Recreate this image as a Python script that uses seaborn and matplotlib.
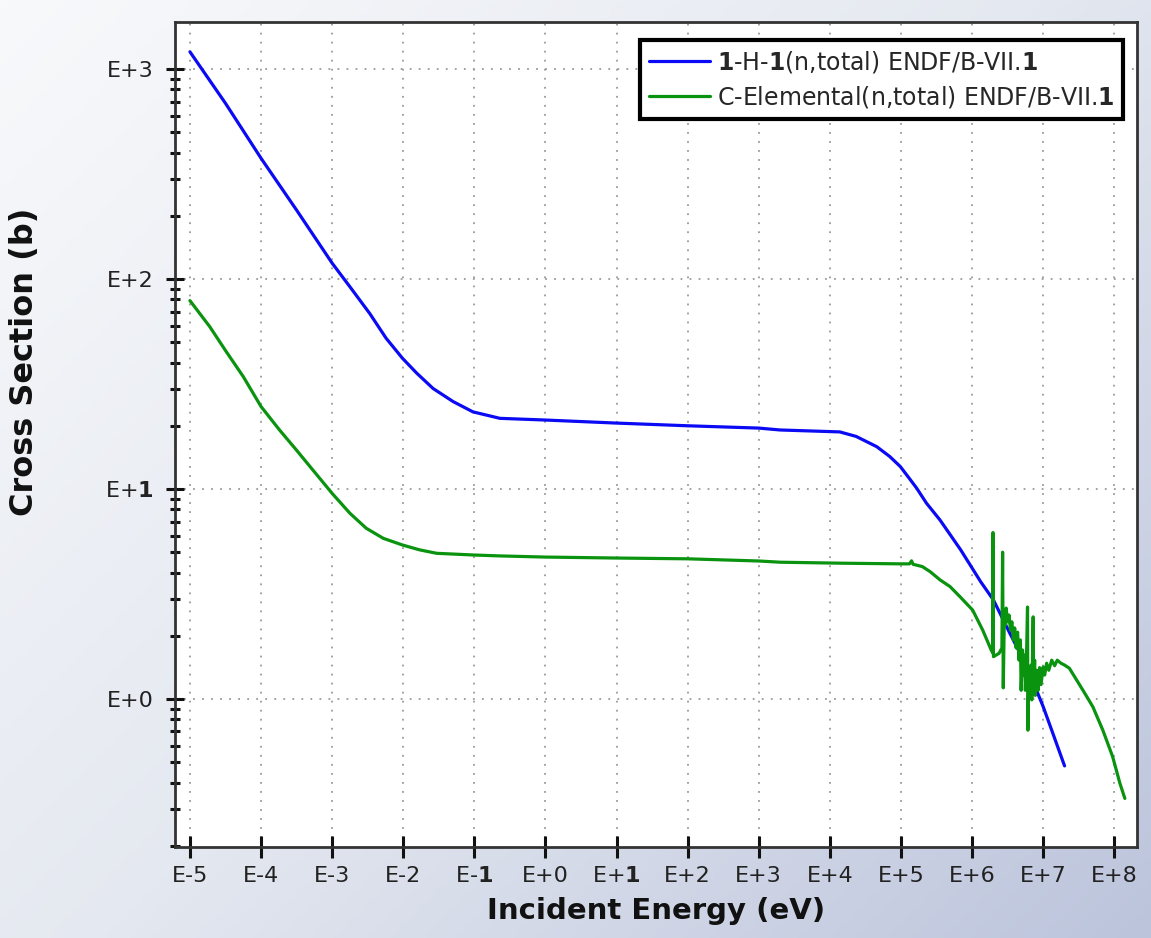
import numpy as np
import pandas as pd
import matplotlib
matplotlib.use('Agg')
import matplotlib.pyplot as plt
import seaborn as sns
from matplotlib.colors import LinearSegmentedColormap
from matplotlib.ticker import LogLocator, NullLocator, FixedLocator, FixedFormatter

# ---------------- data ----------------
h1_energy = [1e-5, 3.16e-5, 1e-4, 3.16e-4, 1e-3, 1.78e-3, 3.39e-3, 5.75e-3, 9.77e-3,
             1.55e-2, 2.63e-2, 5.01e-2, 9.55e-2, 0.229, 1, 10, 100, 1e3, 2e3, 1.38e4,
             2.34e4, 4.57e4, 6.92e4, 9.77e4, 1.32e5, 1.66e5, 2.29e5, 3.55e5, 6.92e5,
             1.32e6, 2e6, 3.39e6, 5.89e6, 1e7, 1.32e7, 2e7]
h1_xs = [1208, 687, 376, 213, 119, 91.8, 68.4, 52.2, 41.9,
         35.6, 30.1, 26.1, 23.3, 21.7, 21.3, 20.6, 20.0, 19.5, 19.1, 18.7,
         17.8, 15.9, 14.3, 12.8, 11.2, 10.1, 8.55, 7.11, 5.13,
         3.62, 2.96, 2.06, 1.43, 0.92, 0.71, 0.48]

c_energy = [1e-5, 1.9e-5, 3.24e-5, 5.62e-5, 1e-4, 1.82e-4, 3.16e-4, 5.37e-4, 1e-3,
            1.78e-3, 3.02e-3, 5.25e-3, 9.77e-3, 1.7e-2, 2.95e-2, 9.55e-2, 0.229,
            1, 10, 100, 1e3, 2e3, 1.6e4, 1e5, 1.32e5, 1.41e5, 1.48e5, 2e5, 2.57e5,
            3.55e5, 4.9e5, 6.76e5, 1.02e6, 1.41e6, 1.86e6, 1.95e6, 1.97e6, 2.0e6,
            2.4e6, 2.63e6, 2.69e6, 2.75e6, 2.85e6, 2.95e6, 3.02e6, 3.16e6, 3.31e6,
            3.47e6, 3.63e6, 3.80e6, 3.98e6, 4.17e6, 4.37e6, 4.57e6, 4.79e6, 4.90e6,
            5.13e6, 5.25e6, 5.50e6, 5.62e6, 5.82e6, 6.03e6, 6.10e6, 6.31e6, 6.46e6,
            6.76e6, 6.92e6, 7.24e6, 7.33e6, 7.59e6, 7.76e6, 8.13e6, 8.51e6, 8.91e6,
            9.33e6, 1e7, 1.05e7, 1.12e7, 1.20e7, 1.32e7, 1.45e7, 1.58e7, 1.78e7,
            2.0e7, 2.34e7, 3.63e7, 5e7, 6.9e7, 9.5e7, 1.2e8, 1.41e8]
c_xs = [78.9, 59.3, 45.1, 34.3, 24.7, 19.1, 15.3, 12.3, 9.53,
        7.66, 6.50, 5.82, 5.41, 5.13, 4.94, 4.85, 4.80,
        4.74, 4.69, 4.65, 4.54, 4.48, 4.43, 4.40, 4.40, 4.55, 4.38, 4.27, 4.04,
        3.69, 3.43, 3.07, 2.65, 2.13, 1.71, 1.66, 6.2, 1.59,
        1.65, 1.75, 5.0, 1.13, 2.6, 2.25, 2.71, 2.33, 2.51,
        2.13, 2.33, 1.91, 2.18, 1.75, 2.08, 1.53, 1.91, 1.10,
        1.71, 1.30, 1.62, 1.10, 1.53, 2.74, 0.71, 1.37, 1.04,
        1.45, 0.99, 2.46, 1.10, 1.53, 1.04, 1.37, 1.10, 1.41,
        1.17, 1.42, 1.30, 1.48, 1.37, 1.53, 1.44, 1.53, 1.48,
        1.45, 1.40, 1.10, 0.918, 0.711, 0.531, 0.397, 0.336]

series_labels = ['$\\mathbf{1}$-H-$\\mathbf{1}$(n,total) ENDF/B-VII.$\\mathbf{1}$',
                 'C-Elemental(n,total) ENDF/B-VII.$\\mathbf{1}$']
x_tick_values = [1e-5, 1e-4, 1e-3, 1e-2, 1e-1, 1e0, 1e1, 1e2, 1e3, 1e4, 1e5, 1e6, 1e7, 1e8]
x_tick_labels = ['E-5', 'E-4', 'E-3', 'E-2', 'E-1', 'E+0', 'E+1', 'E+2', 'E+3', 'E+4',
                 'E+5', 'E+6', 'E+7', 'E+8']
y_tick_values = [1, 10, 100, 1000]
y_tick_labels = ['E+0', 'E+1', 'E+2', 'E+3']


def boldify(s):
    return s.replace('1', '$\\mathbf{1}$')


sns.set_theme(style='white')
plt.rcParams['font.family'] = ['DejaVu Sans']
plt.rcParams['mathtext.fontset'] = 'dejavusans'

W, H = 1151, 938
fig = plt.figure(figsize=(W / 100, H / 100), dpi=100)

# background gradient
bg = fig.add_axes([0, 0, 1, 1], zorder=-10)
gx, gy = np.meshgrid(np.linspace(0, 1, 300), np.linspace(0, 1, 300))
t = 0.55 * gx + 0.45 * gy
cmap = LinearSegmentedColormap.from_list('bg', ['#f8f9fb', '#e4e8f0', '#bcc4dc'])
bg.imshow(t, cmap=cmap, aspect='auto', extent=[0, 1, 0, 1], origin='upper')
bg.set_axis_off()

ax = fig.add_axes([175 / W, 1 - 847 / H, (1137 - 175) / W, (847 - 22) / H])
ax.set_facecolor('white')

sns.lineplot(x=h1_energy, y=h1_xs, ax=ax, color='#0a0af5', linewidth=2.3,
             estimator=None, sort=False, label=series_labels[0])
sns.lineplot(x=c_energy, y=c_xs, ax=ax, color='#0a930f', linewidth=2.3,
             estimator=None, sort=False, label=series_labels[1])

ax.set_xscale('log')
ax.set_yscale('log')
ax.set_xlim(10 ** -5.21, 10 ** 8.32)
ax.set_ylim(10 ** -0.705, 10 ** 3.224)

ax.xaxis.set_major_locator(FixedLocator(x_tick_values))
ax.xaxis.set_major_formatter(FixedFormatter([boldify(s) for s in x_tick_labels]))
ax.xaxis.set_minor_locator(NullLocator())
ax.yaxis.set_major_locator(FixedLocator(y_tick_values))
ax.yaxis.set_major_formatter(FixedFormatter([boldify(s) for s in y_tick_labels]))
ax.yaxis.set_minor_locator(LogLocator(base=10, subs=np.arange(2, 10)))

ax.tick_params(axis='x', which='major', direction='inout', length=16, width=2.2,
               labelsize=16, pad=6, color='#111111', labelcolor='#222222', bottom=True)
ax.tick_params(axis='y', which='major', direction='inout', length=13, width=2.2,
               labelsize=16, pad=9, color='#111111', labelcolor='#222222', left=True)
ax.tick_params(axis='y', which='minor', direction='inout', length=7, width=2.2,
               color='#111111', left=True)

ax.grid(True, which='major', linestyle=(0, (1, 4)), color='#9a9a9a', linewidth=1.3)

for sp in ax.spines.values():
    sp.set_visible(True)
    sp.set_color('#333333')
    sp.set_linewidth(2)

ax.set_xlabel('Incident Energy (eV)', fontsize=21, fontweight='bold', color='#111111')
ax.set_ylabel('Cross Section (b)', fontsize=23, fontweight='bold', color='#111111')
ax.xaxis.set_label_coords(0.5, -0.061)
ax.yaxis.set_label_coords(-0.140, 0.588)

leg = ax.legend(loc='upper right', bbox_to_anchor=(0.9854, 0.978), borderaxespad=0,
                fontsize=17, frameon=True, fancybox=False, framealpha=1,
                edgecolor='black', handlelength=2.55, borderpad=0.38,
                labelspacing=0.36, handletextpad=0.3)
leg.get_frame().set_linewidth(3)

fig.savefig('out.png', dpi=100)
